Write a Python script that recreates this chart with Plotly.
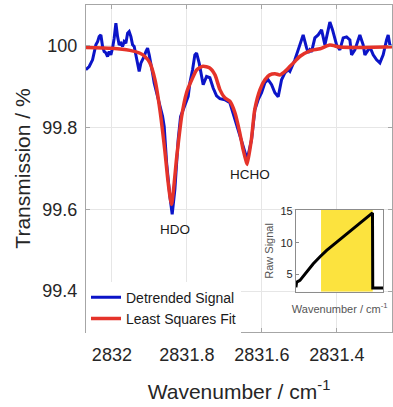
import plotly.graph_objects as go

# ---- main data: detrended signal ----
wn_signal = [2832.0693, 2832.0605, 2832.0515, 2832.0472, 2832.0427, 2832.0381, 2832.0339, 2832.0293,
             2832.0248, 2832.0205, 2832.0160, 2832.0115, 2832.0072, 2832.0027, 2831.9981, 2831.9939,
             2831.9893, 2831.9848, 2831.9805, 2831.9760, 2831.9715, 2831.9672, 2831.9627, 2831.9581,
             2831.9539, 2831.9493, 2831.9448, 2831.9405, 2831.9360, 2831.9315, 2831.9272, 2831.9227,
             2831.9181, 2831.9139, 2831.9093, 2831.9048, 2831.9005, 2831.8960, 2831.8915, 2831.8872,
             2831.8827, 2831.8781, 2831.8739, 2831.8693, 2831.8648, 2831.8605, 2831.8541, 2831.8453,
             2831.8392, 2831.8320, 2831.8232, 2831.8168, 2831.8099, 2831.8027, 2831.7965, 2831.7920,
             2831.7848, 2831.7787, 2831.7741, 2831.7672, 2831.7608, 2831.7565, 2831.7475, 2831.7387,
             2831.7299, 2831.7208, 2831.7120, 2831.6987, 2831.6853, 2831.6720, 2831.6587, 2831.6453,
             2831.6392, 2831.6275, 2831.6187, 2831.6099, 2831.6008, 2831.5920, 2831.5832, 2831.5741,
             2831.5653, 2831.5565, 2831.5475, 2831.5387, 2831.5299, 2831.5253, 2831.5120, 2831.4987,
             2831.4899, 2831.4808, 2831.4765, 2831.4720, 2831.4675, 2831.4587, 2831.4499, 2831.4408,
             2831.4365, 2831.4320, 2831.4232, 2831.4187, 2831.4115, 2831.4008, 2831.3920, 2831.3832,
             2831.3741, 2831.3653, 2831.3608, 2831.3520, 2831.3432, 2831.3387, 2831.3299, 2831.3253,
             2831.3165, 2831.3120, 2831.3032, 2831.2941, 2831.2853, 2831.2765, 2831.2675, 2831.2632,
             2831.2587, 2831.2533]
tr_signal = [99.9415, 99.9495, 99.9659, 99.9829, 100.0024, 100.0105, 100.0227, 100.0268,
             99.9983, 99.9861, 99.9829, 99.9739, 99.9861, 99.9780, 99.9951, 100.0188,
             100.0554, 100.0227, 100.0024, 100.0066, 99.9983, 100.0105, 100.0066, 100.0310,
             100.0349, 100.0227, 100.0024, 99.9983, 99.9780, 99.9617, 99.9373, 99.9578,
             99.9659, 99.9739, 99.9861, 99.9944, 99.9780, 99.9578, 99.9334, 99.9090,
             99.8927, 99.8724, 99.8602, 99.8439, 99.8276, 99.8032, 99.7146, 99.6317,
             99.5878, 99.6488, 99.7707, 99.8268, 99.8439, 99.8610, 99.8763, 99.9098,
             99.9415, 99.9780, 99.9822, 99.9578, 99.9251, 99.9049, 99.9251, 99.9220,
             99.8968, 99.8780, 99.8707, 99.8683, 99.8610, 99.8195, 99.7780, 99.7390,
             99.7220, 99.7707, 99.8439, 99.8683, 99.8854, 99.9098, 99.9171, 99.9049,
             99.8854, 99.8756, 99.9171, 99.9341, 99.9415, 99.9373, 99.9659, 100.0024,
             100.0268, 99.9951, 99.9829, 99.9902, 99.9854, 100.0195, 100.0268, 100.0390,
             100.0195, 100.0024, 100.0390, 100.0585, 100.0390, 100.0024, 99.9902, 100.0195,
             100.0220, 100.0146, 99.9780, 99.9902, 100.0146, 100.0268, 100.0024, 99.9780,
             99.9902, 99.9976, 99.9780, 99.9659, 99.9585, 99.9780, 100.0146, 100.0268,
             100.0024, 99.9976]

# ---- least squares fit ----
wn_fit = [2832.069, 2832.000, 2831.952, 2831.925, 2831.912, 2831.899, 2831.885, 2831.872,
          2831.859, 2831.850, 2831.841, 2831.827, 2831.814, 2831.801, 2831.787, 2831.774,
          2831.757, 2831.739, 2831.725, 2831.712, 2831.699, 2831.685, 2831.672, 2831.659,
          2831.650, 2831.641, 2831.639, 2831.628, 2831.619, 2831.605, 2831.592, 2831.579,
          2831.565, 2831.552, 2831.539, 2831.525, 2831.512, 2831.499, 2831.472, 2831.445,
          2831.419, 2831.392, 2831.347, 2831.253]
tr_fit = [99.996, 99.994, 99.989, 99.982, 99.974, 99.959, 99.917, 99.844,
          99.746, 99.666, 99.612, 99.729, 99.827, 99.885, 99.917, 99.941,
          99.950, 99.946, 99.929, 99.893, 99.873, 99.864, 99.837, 99.788,
          99.746, 99.715, 99.710, 99.771, 99.844, 99.893, 99.917, 99.929,
          99.932, 99.929, 99.937, 99.950, 99.962, 99.974, 99.988, 99.993,
          100.002, 99.997, 99.996, 99.998]

# ---- inset: raw signal ----
raw_x = [0.0, 0.008, 0.046, 0.122, 0.198, 0.275, 0.351, 0.466, 0.580, 0.695, 0.809, 0.866,
         0.875, 0.878, 1.0]
raw_y = [3.0, 3.8, 4.1, 5.4, 6.7, 7.8, 8.8, 10.1, 11.4, 12.8, 14.0, 14.6, 14.7, 2.9, 2.9]
window_start, window_end = 0.287, 0.878
inset_xrange = [0.0, 1.0]
inset_yrange = [2.3, 15.15]

# ---- annotations / ticks ----
peak_labels = ["HDO", "HCHO"]
peak_x = [2831.832, 2831.632]
peak_y = [99.551, 99.685]
x_tickvals = [2832.0, 2831.8, 2831.6, 2831.4]
x_ticktext = ["2832", "2831.8", "2831.6", "2831.4"]
y_tickvals = [99.4, 99.6, 99.8, 100.0]
y_ticktext = ["99.4", "99.6", "99.8", "100"]
inset_ticks = [5, 10, 15]

FONT = "Liberation Sans, Arial, sans-serif"
BLUE = "#0B14C8"
RED = "#E5332A"
AXC = "#A6A6A6"

fig = go.Figure()
fig.add_trace(go.Scatter(x=wn_signal, y=tr_signal, mode="lines", name="Detrended Signal",
                         line=dict(color=BLUE, width=3), legendgroup="a"))
fig.add_trace(go.Scatter(x=wn_fit, y=tr_fit, mode="lines", name="Least Squares Fit",
                         line=dict(color=RED, width=3.5, shape="spline", smoothing=0.6),
                         legendgroup="b"))

# inset: white background, yellow window, raw signal
x0, x1 = inset_xrange
y0, y1 = inset_yrange
fig.add_trace(go.Scatter(x=[x0, x1, x1, x0, x0], y=[y0, y0, y1, y1, y0], mode="lines",
                         fill="toself", fillcolor="white", line=dict(width=0),
                         xaxis="x2", yaxis="y2", showlegend=False, hoverinfo="skip"))
fig.add_trace(go.Scatter(x=[window_start, window_end, window_end, window_start, window_start],
                         y=[y0, y0, y1, y1, y0], mode="lines", fill="toself",
                         fillcolor="#FCE33E", line=dict(width=0),
                         xaxis="x2", yaxis="y2", showlegend=False, hoverinfo="skip"))
fig.add_trace(go.Scatter(x=raw_x, y=raw_y, mode="lines", xaxis="x2", yaxis="y2",
                         line=dict(color="black", width=3), showlegend=False))

for lab, xx, yy in zip(peak_labels, peak_x, peak_y):
    fig.add_annotation(x=xx, y=yy, text=lab, showarrow=False,
                       font=dict(family=FONT, size=13.5, color="#1a1a1a"))

fig.update_layout(
    width=393, height=407,
    margin=dict(l=86, r=1, t=5, b=75),
    paper_bgcolor="white", plot_bgcolor="white",
    font=dict(family=FONT, color="#262626"),
    showlegend=True,
    legend=dict(x=0.0, y=-0.008, xanchor="left", yanchor="bottom", bgcolor="white",
                borderwidth=0, font=dict(family=FONT, size=14, color="#1a1a1a"),
                tracegroupgap=11, traceorder="normal"),
    xaxis=dict(range=[2832.069, 2831.253], tickvals=x_tickvals, ticktext=x_ticktext,
               showgrid=True, gridcolor="#E6E6E6", gridwidth=1, zeroline=False,
               showline=True, linecolor=AXC, linewidth=1, mirror="ticks",
               ticks="inside", ticklen=4, tickcolor=AXC, ticklabelstandoff=6,
               tickfont=dict(family=FONT, size=18, color="#262626"),
               title=dict(text="Wavenumber / cm<sup>-1</sup>", standoff=20,
                          font=dict(family=FONT, size=21, color="#262626"))),
    yaxis=dict(range=[99.3, 100.1], tickvals=y_tickvals, ticktext=y_ticktext,
               showgrid=True, gridcolor="#E6E6E6", gridwidth=1, zeroline=False,
               showline=True, linecolor=AXC, linewidth=1, mirror="ticks",
               ticks="inside", ticklen=4, tickcolor=AXC, ticklabelstandoff=4,
               tickfont=dict(family=FONT, size=18, color="#262626"),
               title=dict(text="Transmission / %", standoff=6,
                          font=dict(family=FONT, size=21, color="#262626"))),
    xaxis2=dict(domain=[0.686, 0.972], anchor="y2", range=inset_xrange, showticklabels=False,
                showgrid=False, zeroline=False, showline=True, linecolor="#8c8c8c",
                linewidth=1, mirror=True, ticks="",
                title=dict(text="Wavenumber / cm<sup>-1</sup>", standoff=13,
                           font=dict(family=FONT, size=11, color="#555555"))),
    yaxis2=dict(domain=[0.123, 0.373], anchor="x2", range=inset_yrange, tickvals=inset_ticks,
                showgrid=False, zeroline=False, showline=True, linecolor="#8c8c8c",
                linewidth=1, mirror=True, ticks="inside", ticklen=3, tickcolor="#8c8c8c",
                tickfont=dict(family=FONT, size=11, color="#262626"),
                title=dict(text="Raw Signal", standoff=4,
                           font=dict(family=FONT, size=11, color="#555555"))),
)

fig.write_html("out.html")
